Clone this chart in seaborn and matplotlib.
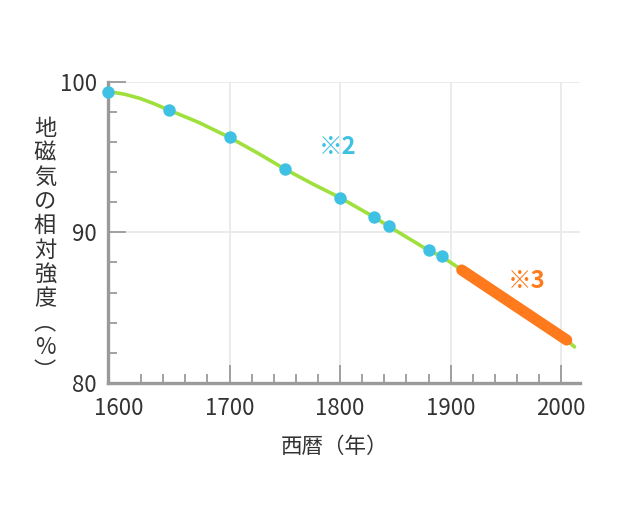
# Relative strength of the geomagnetic field since 1590, with the modern survey span highlighted.
import matplotlib

matplotlib.use("Agg")
import matplotlib.pyplot as plt
import pandas as pd
import seaborn as sns

# blue dots: historical estimates
dot_years = [1590, 1645, 1700, 1750, 1800, 1831, 1844, 1880, 1892]
dot_values = [99.35, 98.12, 96.3, 94.2, 92.3, 91.0, 90.4, 88.8, 88.4]

# green trend line
curve_years = [1590, 1605, 1619, 1632, 1645, 1672, 1700, 1725, 1750, 1775, 1800,
               1831, 1844, 1880, 1892, 1910, 1950, 2005, 2012]
curve_values = [99.35, 99.17, 98.89, 98.53, 98.12, 97.3, 96.3, 95.28, 94.2, 93.22, 92.3,
                91.0, 90.4, 88.8, 88.4, 87.5, 85.6, 82.85, 82.4]

# orange: direct measurements
obs_years = [1910, 2005]
obs_values = [87.5, 82.85]

x_ticks = [1600, 1700, 1800, 1900, 2000]
y_ticks = [80, 90, 100]

GREEN, BLUE, ORANGE = "#9fe03c", "#3ec1e3", "#ff7a1c"
AXIS, TEXT = "#9a9a9a", "#333333"

sns.set_theme(style="white")
plt.rcParams["font.family"] = ["Noto Sans CJK JP", "DejaVu Sans"]

fig = plt.figure(figsize=(6.2, 5.05), dpi=100)
ax = fig.add_axes([0.1742, 0.2416, 0.7613, 0.5966])

curve = pd.DataFrame({"year": curve_years, "value": curve_values})
dots = pd.DataFrame({"year": dot_years, "value": dot_values})
obs = pd.DataFrame({"year": obs_years, "value": obs_values})

sns.lineplot(data=curve, x="year", y="value", ax=ax, color=GREEN, lw=2.6,
             estimator=None, zorder=3)
sns.lineplot(data=obs, x="year", y="value", ax=ax, color=ORANGE, lw=8,
             estimator=None, zorder=4, solid_capstyle="round")
sns.scatterplot(data=dots, x="year", y="value", ax=ax, color=BLUE, s=80,
                linewidth=0, zorder=5, clip_on=False)

ax.set_xlim(1590, 2017)
ax.set_ylim(80, 100)
ax.set_xticks(x_ticks)
ax.set_xticks(range(1620, 2017, 20), minor=True)
ax.set_yticks(y_ticks)
ax.set_yticks(range(82, 100, 2), minor=True)

ax.grid(True, which="major", color="#e8e8e8", lw=1.2, zorder=0)
for s in ["top", "right"]:
    ax.spines[s].set_visible(False)
for s in ["left", "bottom"]:
    ax.spines[s].set_color(AXIS)
    ax.spines[s].set_linewidth(2.4)

ax.tick_params(which="major", direction="in", length=13, width=1.3, color=AXIS,
               labelsize=16, labelcolor=TEXT, bottom=True, left=True)
ax.tick_params(which="minor", direction="in", length=6.5, width=1.3, color=AXIS,
               bottom=True, left=True)
ax.tick_params(axis="x", which="major", pad=10)
ax.tick_params(axis="y", which="major", pad=8)

# no tick mark or grid line at 1600 in the original
first = ax.xaxis.get_major_ticks()[0]
first.tick1line.set_visible(False)
first.gridline.set_visible(False)

ax.set_xlabel("")
ax.set_ylabel("")

ax.text(1798, 95.66, "※2", color=BLUE, fontsize=17, fontweight="bold",
        ha="center", va="center")
ax.text(1969, 86.77, "※3", color=ORANGE, fontsize=17, fontweight="bold",
        ha="center", va="center")

fig.text(335 / 620, 1 - 447 / 505, "西暦（年）", color=TEXT, fontsize=15.5,
         ha="center", va="center")
fig.text(45 / 620, 1 - 250 / 505, "\n".join("地磁気の相対強度︵%︶"), color=TEXT,
         fontsize=16, ha="center", va="center", linespacing=1.07)

fig.savefig("out.png", dpi=100)
